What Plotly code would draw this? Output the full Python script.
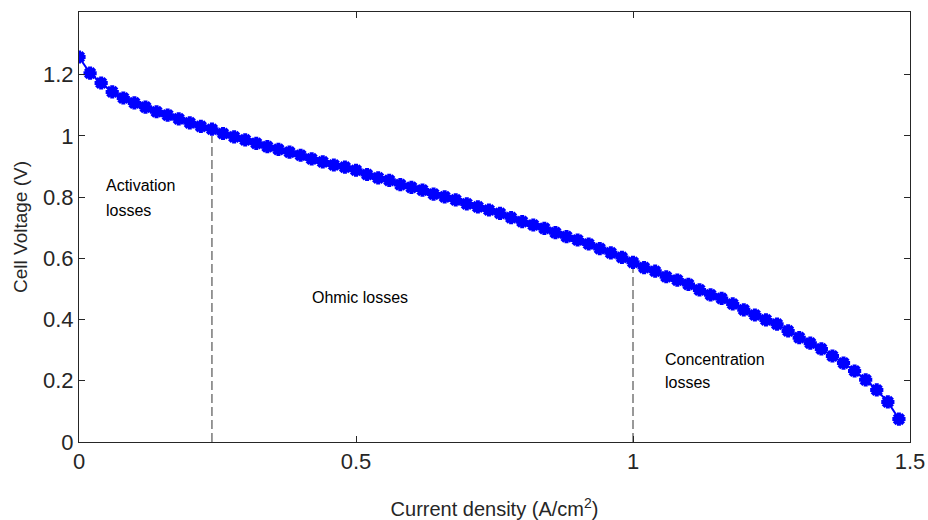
import plotly.graph_objects as go

# Current density (A/cm^2) sample points
current_density = [round(0.02 * k, 2) for k in range(75)]
# Cell voltage (V)
cell_voltage = [
    1.258, 1.205, 1.173, 1.144, 1.124, 1.108, 1.094, 1.079, 1.068, 1.056,
    1.043, 1.031, 1.022, 1.008, 0.997, 0.987, 0.976, 0.965, 0.956, 0.947,
    0.937, 0.925, 0.915, 0.905, 0.898, 0.888, 0.874, 0.863, 0.855, 0.841,
    0.832, 0.823, 0.810, 0.801, 0.791, 0.778, 0.768, 0.758, 0.747, 0.733,
    0.720, 0.709, 0.698, 0.684, 0.671, 0.660, 0.647, 0.632, 0.618, 0.603,
    0.587, 0.570, 0.558, 0.540, 0.529, 0.515, 0.497, 0.481, 0.469, 0.451,
    0.432, 0.415, 0.399, 0.385, 0.363, 0.341, 0.323, 0.304, 0.281, 0.258,
    0.232, 0.203, 0.170, 0.131, 0.075,
]

# Region boundaries (dashed lines): x position and top voltage
boundary_x = [0.24, 1.0]
boundary_top = [1.0, 0.57]

# Region labels (one entry per text line)
label_text = ["Activation", "losses", "Ohmic losses", "Concentration", "losses"]
label_x = [0.045, 0.045, 0.417, 1.054, 1.054]
label_y = [0.837, 0.755, 0.471, 0.271, 0.193]

x_ticks = [0, 0.5, 1, 1.5]
x_ticktext = ["0", "0.5", "1", "1.5"]
y_ticks = [0, 0.2, 0.4, 0.6, 0.8, 1.0, 1.2]
y_ticktext = ["0", "0.2", "0.4", "0.6", "0.8", "1", "1.2"]

FONT = "Liberation Sans, Arial, Helvetica"

fig = go.Figure()

for bx, bt in zip(boundary_x, boundary_top):
    fig.add_trace(go.Scatter(
        x=[bx, bx], y=[0, bt], mode="lines",
        line=dict(color="#333333", width=1, dash="9px,4px"),
        showlegend=False, hoverinfo="skip",
    ))

fig.add_trace(go.Scatter(
    x=current_density, y=cell_voltage, mode="lines+markers",
    line=dict(color="#0000ff", width=2),
    marker=dict(symbol="asterisk-open", size=11, color="#0000ff",
                line=dict(color="#0000ff", width=4)),
    showlegend=False,
))

for t, lx, ly in zip(label_text, label_x, label_y):
    fig.add_annotation(
        x=lx, y=ly, text=t, showarrow=False, xanchor="left", yanchor="middle",
        align="left", font=dict(family=FONT, size=16, color="#000000"),
    )

axis_common = dict(
    showgrid=False, zeroline=False, showline=True, linecolor="#262626",
    linewidth=1, mirror="ticks", ticks="inside", ticklen=6, tickcolor="#262626",
    tickfont=dict(family=FONT, size=22, color="#262626"),
    automargin=False,
)

fig.update_xaxes(
    range=[0, 1.5], tickvals=x_ticks, ticktext=x_ticktext,
    title=dict(text="Current density (A/cm<sup>2</sup>)",
               font=dict(family=FONT, size=20, color="#262626"),
               standoff=32),
    **axis_common,
)
fig.update_yaxes(
    range=[0, 1.405], tickvals=y_ticks, ticktext=y_ticktext,
    title=dict(text="Cell Voltage (V)",
               font=dict(family=FONT, size=19, color="#262626"),
               standoff=10),
    **axis_common,
)

fig.update_layout(
    width=928, height=520,
    margin=dict(l=79, r=18, t=12, b=78),
    plot_bgcolor="white", paper_bgcolor="white",
)

fig.write_html("out.html")
